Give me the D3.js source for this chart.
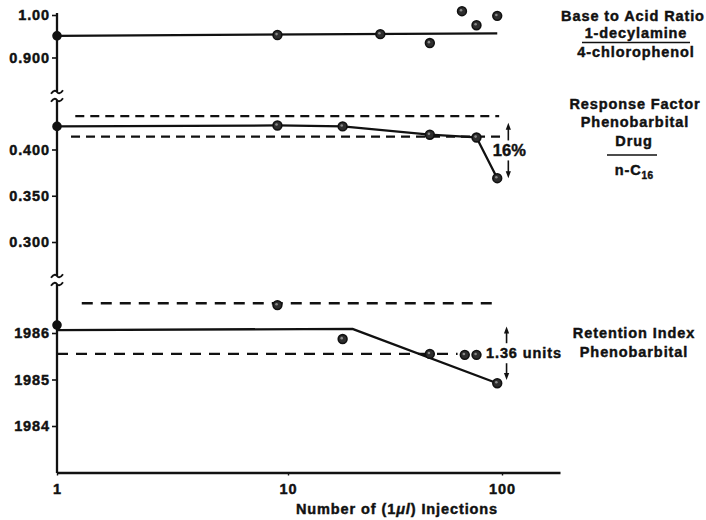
<!DOCTYPE html>
<html><head><meta charset="utf-8">
<script src="https://cdn.jsdelivr.net/npm/d3@7"></script>
<style>
html,body{margin:0;padding:0;background:#fff;}
svg{display:block;}
text{font-family:"Liberation Sans",Arial,Helvetica,sans-serif;font-weight:bold;fill:#111;stroke:#111;stroke-width:0.45px;}
</style></head><body>
<svg id="chart" width="706" height="520"></svg>
<script>
// Base-to-acid ratio (1-decylamine / 4-chlorophenol) vs number of injections
const ratioX = [1, 9, 27, 46, 65, 76, 95];
const ratioY = [0.951, 0.953, 0.955, 0.934, 1.009, 0.976, 0.998];
const ratioFitX = [1, 95];
const ratioFitY = [0.951, 0.957];

// Response factor of phenobarbital (drug / n-C16)
const rfX = [1, 9, 18, 46, 76, 95];
const rfY = [0.425, 0.426, 0.425, 0.416, 0.413, 0.369];
const rfBandY = [0.436, 0.414];
const rfBandFrom = [1.2, 1.15];
const rfBandTo = [97, 101];
const rfSpan = [0.429, 0.369];
const rfSpanAt = 107;

// Retention index of phenobarbital
const riX = [1, 9, 18, 46, 67, 76, 95];
const riY = [1986.17, 1986.60, 1985.87, 1985.55, 1985.53, 1985.53, 1984.92];
const riFitX = [1, 20, 95];
const riFitY = [1986.06, 1986.09, 1984.92];
const riBandY = [1986.64, 1985.55];
const riBandFrom = [1.28, 1];
const riBandTo = [93, 62];
const riSpan = [1986.14, 1984.99];
const riSpanAt = 105;

// Axis ticks
const xTicks = [1, 10, 100];
const ratioTicks = [1.00, 0.900];
const ratioTickLabels = ["1.00", "0.900"];
const rfTicks = [0.400, 0.350, 0.300];
const rfTickLabels = ["0.400", "0.350", "0.300"];
const riTicks = [1986, 1985, 1984];
const riTickLabels = ["1986", "1985", "1984"];

const svg = d3.select("#chart");
const LS = "0.9px";

// log-spaced injection axis (hand-drawn decades are slightly uneven)
const x = d3.scaleLog().domain([1, 10, 100, 186]).range([57, 288, 502, 560]);
const y1 = d3.scaleLinear().domain([0.9, 1.0]).range([57.5, 15]);
const y2 = d3.scaleLinear().domain([0.3, 0.4]).range([242, 149.5]);
const y3 = d3.scaleLinear().domain([1984, 1986]).range([426, 333]);

// ---- y axes (three stacked segments with breaks) ----
function yAxis(scale, ticks, labels) {
  const g = svg.append("g").attr("transform", "translate(57,0)")
    .call(d3.axisLeft(scale).tickValues(ticks)
      .tickFormat((d, i) => labels[i]).tickSize(5).tickPadding(2));
  g.select(".domain").remove();
  g.selectAll(".tick line").attr("stroke", "#111").attr("stroke-width", 1.6);
  g.selectAll(".tick text").style("font-size", "14.5px")
    .style("letter-spacing", LS).attr("font-family", null).attr("fill", "#111");
}
yAxis(y1, ratioTicks, ratioTickLabels);
yAxis(y2, rfTicks, rfTickLabels);
yAxis(y3, riTicks, riTickLabels);

const segs = [[13, 92], [100, 276], [284, 473]];
svg.append("g").selectAll("line").data(segs).join("line")
  .attr("x1", 57).attr("x2", 57)
  .attr("y1", d => d[0]).attr("y2", d => d[1])
  .attr("stroke", "#111").attr("stroke-width", 2.3);

const tilde = "M-6,1.8 C-3,-2.5 -1,-1.5 0,0 S3,2.5 6,-1.8";
svg.append("g").selectAll("path").data([92, 100, 276, 284]).join("path")
  .attr("transform", d => `translate(57,${d})`)
  .attr("d", tilde).attr("fill", "none")
  .attr("stroke", "#111").attr("stroke-width", 1.9);

// ---- x axis ----
const xg = svg.append("g").attr("transform", "translate(0,472.5)")
  .call(d3.axisBottom(x).tickValues(xTicks).tickFormat(d3.format("d"))
    .tickSize(3).tickSizeOuter(0).tickPadding(8));
xg.select(".domain").attr("stroke", "#111").attr("stroke-width", 2.3);
xg.selectAll(".tick line").attr("stroke", "#111").attr("stroke-width", 1.4);
xg.selectAll(".tick text").style("font-size", "14.5px")
  .style("letter-spacing", LS).attr("font-family", null).attr("fill", "#111");

const xt = svg.append("text").attr("x", 397).attr("y", 514)
  .attr("text-anchor", "middle").style("font-size", "14.5px").style("letter-spacing", LS);
xt.append("tspan").text("Number of (1");
xt.append("tspan").style("font-style", "italic").text("\u03bcl");
xt.append("tspan").text(") Injections");

// ---- marks ----
function solid(xs, ys, yScale) {
  svg.append("path")
    .datum(xs.map((v, i) => [v, ys[i]]))
    .attr("d", d3.line().x(d => x(d[0])).y(d => yScale(d[1])))
    .attr("fill", "none").attr("stroke", "#111").attr("stroke-width", 2.3)
    .attr("stroke-linejoin", "round");
}
function bands(levels, from, to, yScale, dash) {
  svg.append("g").selectAll("line").data(levels).join("line")
    .attr("x1", (d, i) => x(from[i])).attr("x2", (d, i) => x(to[i]))
    .attr("y1", d => yScale(d)).attr("y2", d => yScale(d))
    .attr("stroke", "#111").attr("stroke-width", 2.3)
    .attr("stroke-dasharray", dash);
}
function dots(xs, ys, yScale) {
  const pts = xs.map((v, i) => [v, ys[i]]);
  const g = svg.append("g");
  g.selectAll("circle.o").data(pts).join("circle").attr("class", "o")
    .attr("cx", d => x(d[0])).attr("cy", d => yScale(d[1]))
    .attr("r", d => d[0] === 1 ? 4 : 4.4)
    .attr("fill", d => d[0] === 1 ? "#111" : "#2e2e2e")
    .attr("stroke", "#111").attr("stroke-width", 1.6);
  g.selectAll("circle.h").data(pts.filter(d => d[0] !== 1)).join("circle").attr("class", "h")
    .attr("cx", d => x(d[0]) - 0.9).attr("cy", d => yScale(d[1]) - 0.9)
    .attr("r", 1.3).attr("fill", "#8a8a8a");
}
function span(at, vals, yScale, gap) {
  const xa = x(at), top = yScale(vals[0]), bot = yScale(vals[1]);
  const mid = (top + bot) / 2;
  const g = svg.append("g").attr("stroke", "#111").attr("fill", "#111");
  g.append("line").attr("x1", xa).attr("x2", xa).attr("y1", top + 4).attr("y2", mid - gap)
    .attr("stroke-width", 1.6);
  g.append("line").attr("x1", xa).attr("x2", xa).attr("y1", mid + gap).attr("y2", bot - 4)
    .attr("stroke-width", 1.6);
  g.append("path").attr("stroke", "none")
    .attr("d", `M${xa},${top} L${xa - 2.6},${top + 7} L${xa + 2.6},${top + 7} Z`);
  g.append("path").attr("stroke", "none")
    .attr("d", `M${xa},${bot} L${xa - 2.6},${bot - 7} L${xa + 2.6},${bot - 7} Z`);
  return mid;
}

// panel 1: ratio
solid(ratioFitX, ratioFitY, y1);
dots(ratioX, ratioY, y1);

// panel 2: response factor
bands(rfBandY, rfBandFrom, rfBandTo, y2, "9,6");
solid(rfX, rfY, y2);
dots(rfX, rfY, y2);
const m2 = span(rfSpanAt, rfSpan, y2, 10);
svg.append("text").attr("x", x(rfSpanAt) + 1).attr("y", m2 + 6)
  .attr("text-anchor", "middle").style("font-size", "16.5px").text("16%");

// panel 3: retention index
bands(riBandY, riBandFrom, riBandTo, y3, "11,8");
solid(riFitX, riFitY, y3);
dots(riX, riY, y3);
const m3 = span(riSpanAt, riSpan, y3, 10);
svg.append("text").attr("x", 486).attr("y", m3 + 4.5)
  .style("font-size", "14.5px").style("letter-spacing", LS).text("1.36 units");

// ---- series titles on the right ----
function label(txt, cx, by) {
  return svg.append("text").attr("x", cx).attr("y", by).attr("text-anchor", "middle")
    .style("font-size", "14.5px").style("letter-spacing", LS).text(txt);
}
label("Base to Acid Ratio", 633, 21);
label("1-decylamine", 636, 38);
svg.append("line").attr("x1", 582).attr("x2", 690).attr("y1", 42.5).attr("y2", 42.5)
  .attr("stroke", "#111").attr("stroke-width", 1.4);
label("4-chlorophenol", 636, 57);

label("Response Factor", 635, 109);
label("Phenobarbital", 635, 127);
label("Drug", 634, 146);
svg.append("line").attr("x1", 607).attr("x2", 657).attr("y1", 155).attr("y2", 155)
  .attr("stroke", "#111").attr("stroke-width", 1.4);
const nc = svg.append("text").attr("x", 634).attr("y", 175).attr("text-anchor", "middle")
  .style("font-size", "14.5px").style("letter-spacing", LS);
nc.append("tspan").text("n-C");
nc.append("tspan").attr("dy", 4).style("font-size", "10px").style("letter-spacing", "0.3px").text("16");

label("Retention Index", 634, 337.5);
label("Phenobarbital", 634, 357);
</script>
</body></html>
